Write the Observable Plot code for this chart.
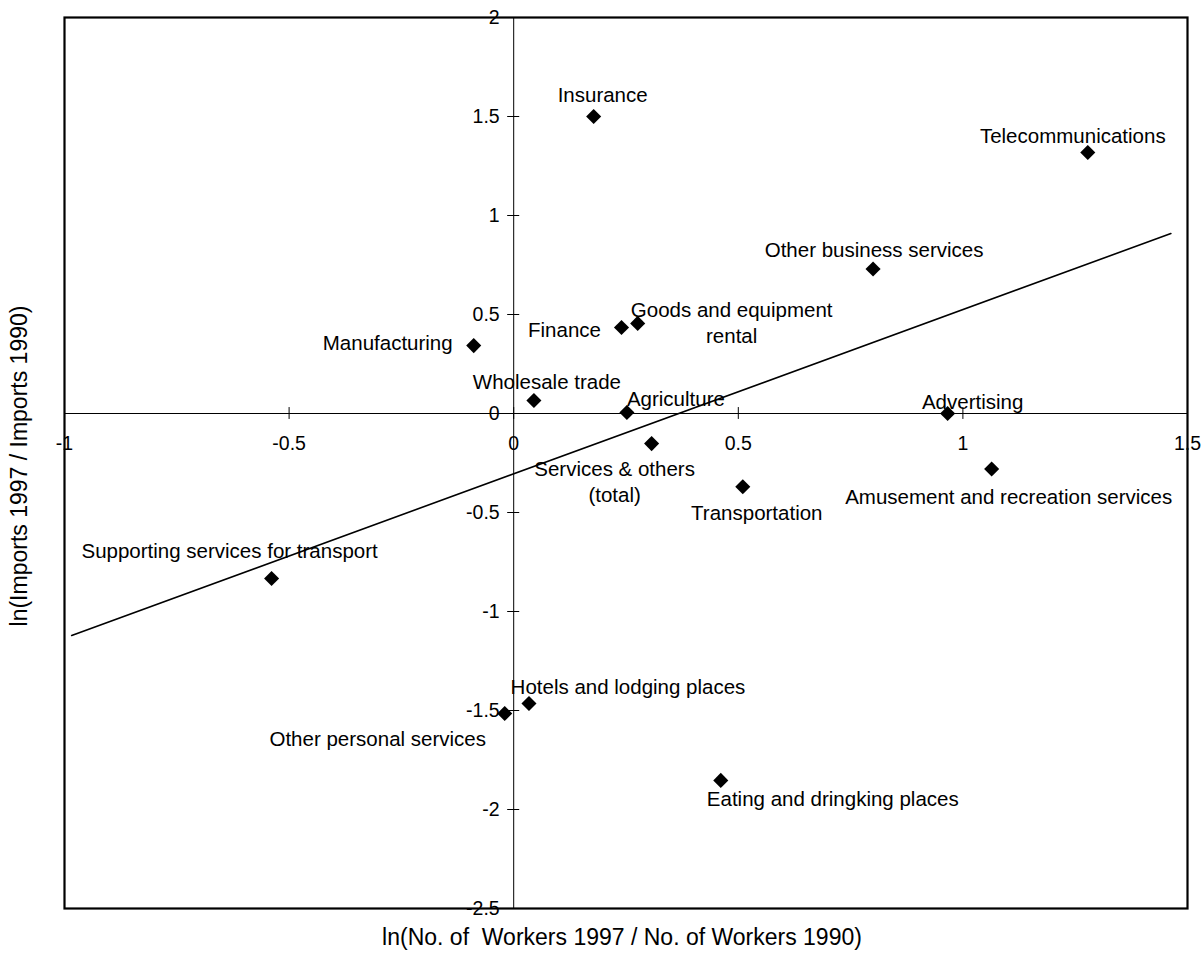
<!DOCTYPE html>
<html>
<head>
<meta charset="utf-8">
<script src="https://cdn.jsdelivr.net/npm/d3@7"></script>
<script src="https://cdn.jsdelivr.net/npm/@observablehq/plot@0.6"></script>
<style>
  html, body { margin: 0; padding: 0; background: #fff; }
</style>
</head>
<body>
<div id="chart"></div>
<script>
// ---- data ----
const sectors = [
  "Insurance", "Telecommunications", "Other business services",
  "Goods and equipment\nrental", "Finance", "Manufacturing",
  "Wholesale trade", "Agriculture", "Services & others\n(total)",
  "Transportation", "Advertising", "Amusement and recreation services",
  "Supporting services for transport", "Hotels and lodging places",
  "Other personal services", "Eating and dringking places"
];
const workersLn = [0.178, 1.278, 0.800, 0.276, 0.240, -0.089, 0.045, 0.252, 0.307, 0.510, 0.966, 1.064, -0.539, 0.034, -0.020, 0.461];
const importsLn = [1.500, 1.318, 0.730, 0.455, 0.434, 0.343, 0.066, 0.005, -0.152, -0.370, 0.000, -0.280, -0.833, -1.465, -1.515, -1.853];

// trend line end points
const trendX = [-0.984, 1.463];
const trendY = [-1.121, 0.909];

const xTicks = [-1, -0.5, 0, 0.5, 1, 1.5];
const xTickLabels = ["-1", "-0.5", "0", "0.5", "1", "1.5"];
const yTicks = [2, 1.5, 1, 0.5, 0, -0.5, -1, -1.5, -2, -2.5];
const yTickLabels = ["2", "1.5", "1", "0.5", "0", "-0.5", "-1", "-1.5", "-2", "-2.5"];

const xTitle = "ln(No. of  Workers 1997 / No. of Workers 1990)";
const yTitle = "ln(Imports 1997 / Imports 1990)";

// ---- layout (label centre offsets in pixels, relative to each point) ----
const labelOffsets = [
  [9, -23], [-15, -18], [1, -20], [94, -2], [-57, 1], [-86, -4],
  [13, -20], [49, -15], [-37, 37], [14, 25], [25, -13], [17, 27],
  [-42, -29], [99, -18], [-127, 24], [112, 17]
];

const points = sectors.map((s, i) => ({
  sector: s, x: workersLn[i], y: importsLn[i],
  dx: labelOffsets[i][0], dy: labelOffsets[i][1]
}));
const trend = trendX.map((x, i) => ({x, y: trendY[i]}));
const xt = xTicks.map((v, i) => ({v, label: xTickLabels[i]}));
const yt = yTicks.map((v, i) => ({v, label: yTickLabels[i]}));

const font = "'Liberation Sans', Arial, Helvetica, sans-serif";

const labelMarks = points.map(p =>
  Plot.text([p], {x: "x", y: "y", text: "sector", dx: p.dx, dy: p.dy,
    fontSize: 20.5, lineHeight: 1.3, fill: "black"})
);

const chart = Plot.plot({
  width: 1203,
  height: 960,
  marginLeft: 64,
  marginRight: 16,
  marginTop: 17,
  marginBottom: 52,
  x: {domain: [-1, 1.5], axis: null},
  y: {domain: [-2.5, 2], axis: null},
  style: {fontFamily: font, background: "white", color: "black"},
  marks: [
    // axes through the origin
    Plot.ruleY([0], {stroke: "black", strokeWidth: 1}),
    Plot.ruleX([0], {stroke: "black", strokeWidth: 1}),
    // tick marks crossing the axes
    Plot.ruleX(xt, {x: "v", y1: -0.03, y2: 0.03, stroke: "black", strokeWidth: 1}),
    Plot.ruleY(yt, {y: "v", x1: -0.0134, x2: 0.0134, stroke: "black", strokeWidth: 1}),
    // tick labels
    Plot.text(xt, {x: "v", y: 0, dy: 30, text: "label", fontSize: 19.5, fill: "black"}),
    Plot.text(yt, {x: 0, y: "v", dx: -14, text: "label", textAnchor: "end", fontSize: 19.5, fill: "black"}),
    // trend line
    Plot.line(trend, {x: "x", y: "y", stroke: "black", strokeWidth: 1.6}),
    // points
    Plot.dot(points, {x: "x", y: "y", symbol: "diamond2", r: 6.8, fill: "black", stroke: "none"}),
    // labels
    ...labelMarks,
    // axis titles
    Plot.text([xTitle], {frameAnchor: "bottom", dy: 36, dx: -4, fontSize: 23, textAnchor: "middle", fill: "black"}),
    Plot.text([yTitle], {frameAnchor: "left", dx: -45, dy: 3, rotate: -90, textAnchor: "middle", fontSize: 23, fill: "black"}),
    // frame
    Plot.frame({stroke: "black", strokeWidth: 2.2})
  ]
});

document.getElementById("chart").appendChild(chart);
</script>
</body>
</html>
